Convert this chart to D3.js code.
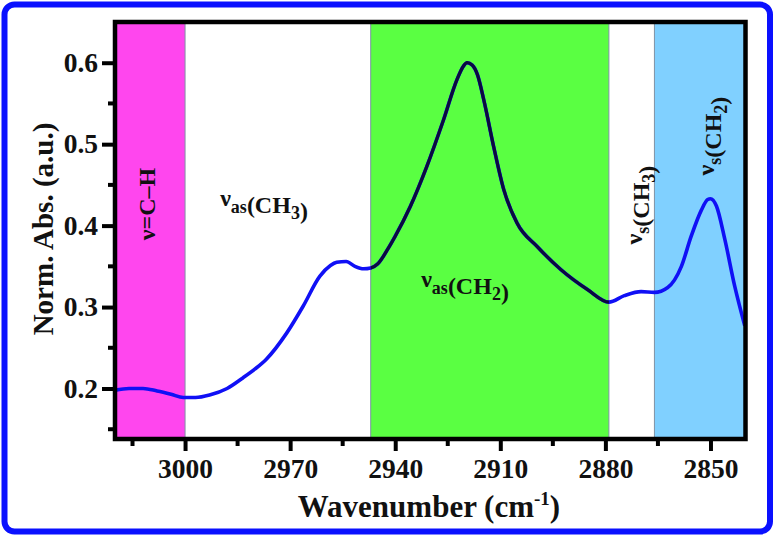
<!DOCTYPE html>
<html>
<head>
<meta charset="utf-8">
<script src="https://cdn.jsdelivr.net/npm/d3@7/dist/d3.min.js"></script>
<style>
  html, body { margin: 0; padding: 0; background: #fff; }
  svg { display: block; }
  text { font-family: "Liberation Serif", "Times New Roman", serif; font-weight: bold; fill: #111; }
</style>
</head>
<body>
<svg id="chart" width="779" height="538"></svg>
<script>
// ---- data ----
const wavenumber = [3020, 3016, 3012, 3008, 3004, 3000.5, 2997, 2993, 2988, 2983.5, 2980, 2976.8, 2971, 2966.3,
  2961.5, 2958.5, 2956.7, 2954, 2951.5, 2949, 2947, 2945, 2942, 2940, 2935.7, 2931, 2926.2, 2922.4, 2920.5,
  2919.5, 2918, 2916.5, 2914.7, 2911.9, 2909, 2905.2, 2899.4, 2892.7, 2885.1, 2879, 2874.6, 2869.8, 2866,
  2862.2, 2858.3, 2855.5, 2852.6, 2850.8, 2850, 2848.3, 2845.9, 2843.1, 2840.2];
const absorbance = [0.198, 0.200, 0.200, 0.197, 0.193, 0.189, 0.189, 0.192, 0.200, 0.213, 0.224, 0.236, 0.268, 0.301,
  0.338, 0.351, 0.355, 0.356, 0.350, 0.347, 0.348, 0.353, 0.372, 0.387, 0.4235, 0.4725, 0.530, 0.579, 0.596,
  0.600, 0.597, 0.585, 0.554, 0.497, 0.444, 0.403, 0.374, 0.346, 0.3215, 0.306, 0.314, 0.319, 0.318,
  0.324, 0.350, 0.387, 0.419, 0.432, 0.433, 0.424, 0.383, 0.326, 0.277];

const xTickValues = [3000, 2970, 2940, 2910, 2880, 2850];
const xMinorTicks = [3015, 2985, 2955, 2925, 2895, 2865];
const yTickValues = [0.2, 0.3, 0.4, 0.5, 0.6];
const yMinorTicks = [0.15, 0.25, 0.35, 0.45, 0.55];

const bandStart = [3020, 2947, 2866];
const bandEnd   = [3000, 2879, 2840];
const bandColor = ["#ff46ee", "#5aff42", "#80d0ff"];

// ---- layout ----
const svg = d3.select("#chart");
const L = 115, R = 745.5, T = 22, B = 439;
const x = d3.scaleLinear().domain([3020, 2840]).range([L, R]);
const y = d3.scaleLinear().domain([0.138, 0.65]).range([B, T]);
const FONT = '"Liberation Serif", "Times New Roman", serif';

// outer blue rounded border
svg.append("rect").attr("x", 4.5).attr("y", 4.5).attr("width", 765.5).attr("height", 527)
  .attr("rx", 10).attr("fill", "#fff").attr("stroke", "#0a10ff").attr("stroke-width", 6);

// bands
const bands = bandStart.map((s, i) => ({s, e: bandEnd[i], c: bandColor[i]}));
svg.append("g").selectAll("rect").data(bands).join("rect")
  .attr("x", d => x(d.s)).attr("y", T)
  .attr("width", d => x(d.e) - x(d.s)).attr("height", B - T)
  .attr("fill", d => d.c).attr("stroke", "#7f93a6").attr("stroke-width", 1);

// curve
const pts = wavenumber.map((w, i) => [w, absorbance[i]]);
const line = d3.line().x(d => x(d[0])).y(d => y(d[1])).curve(d3.curveMonotoneX);
svg.append("path").datum(pts).attr("d", line).attr("fill", "none")
  .attr("stroke", "#1010f5").attr("stroke-width", 3.6).attr("stroke-linejoin", "round");

svg.append("clipPath").attr("id", "greenClip").append("rect")
  .attr("x", x(bandStart[1])).attr("y", 0).attr("width", x(bandEnd[1]) - x(bandStart[1])).attr("height", 538);
svg.append("path").datum(pts).attr("d", line).attr("fill", "none")
  .attr("clip-path", "url(#greenClip)")
  .attr("stroke", "#0b0b3c").attr("stroke-width", 3.2).attr("stroke-linejoin", "round");

// axes
const xAxis = d3.axisBottom(x).tickValues(xTickValues).tickFormat(d3.format("d")).tickSize(12).tickPadding(7);
const gx = svg.append("g").attr("transform", `translate(0,${B})`).call(xAxis);
gx.select(".domain").remove();
gx.selectAll(".tick line").attr("stroke", "#000").attr("stroke-width", 4);
gx.selectAll(".tick text").attr("font-size", 27.5).attr("fill", "#111")
  .style("font-family", FONT).style("font-weight", "bold");
svg.append("g").selectAll("line").data(xMinorTicks).join("line")
  .attr("x1", d => x(d)).attr("x2", d => x(d)).attr("y1", B).attr("y2", B + 7)
  .attr("stroke", "#000").attr("stroke-width", 4);

const yAxis = d3.axisLeft(y).tickValues(yTickValues).tickFormat(d3.format(".1f")).tickSize(13).tickPadding(4);
const gy = svg.append("g").attr("transform", `translate(${L},0)`).call(yAxis);
gy.select(".domain").remove();
gy.selectAll(".tick line").attr("stroke", "#000").attr("stroke-width", 4);
gy.selectAll(".tick text").attr("font-size", 27.5).attr("fill", "#111")
  .style("font-family", FONT).style("font-weight", "bold");
svg.append("g").selectAll("line").data(yMinorTicks).join("line")
  .attr("x1", L - 7).attr("x2", L).attr("y1", d => y(d)).attr("y2", d => y(d))
  .attr("stroke", "#000").attr("stroke-width", 4);

// frame
svg.append("rect").attr("x", L).attr("y", T).attr("width", R - L).attr("height", B - T)
  .attr("fill", "none").attr("stroke", "#000").attr("stroke-width", 4.5);

// axis titles
svg.append("text").attr("x", 429).attr("y", 517).attr("text-anchor", "middle")
  .attr("font-size", 31)
  .call(t => {
    t.append("tspan").text("Wavenumber (cm");
    t.append("tspan").attr("font-size", 19).attr("dy", -12).text("-1");
    t.append("tspan").attr("dy", 12).text(")");
  });
svg.append("text").attr("transform", "translate(53,229) rotate(-90)").attr("text-anchor", "middle")
  .attr("font-size", 29).text("Norm. Abs. (a.u.)");

// band annotations
function label(g, parts, size) {
  const sub = Math.round(size * 0.75);
  parts.forEach(p => {
    if (p.sub) {
      g.append("tspan").attr("font-size", sub).attr("dy", size * 0.28).text(p.t);
      g.append("tspan").attr("dy", -size * 0.28).text("");
    } else {
      g.append("tspan").text(p.t);
    }
  });
}
const annSize = 24;
svg.append("text").attr("transform", "translate(155,204) rotate(-90)").attr("text-anchor", "middle")
  .attr("font-size", annSize).text("ν=C–H");

const t1 = svg.append("text").attr("x", 264).attr("y", 206).attr("text-anchor", "middle").attr("font-size", annSize);
label(t1, [{t: "ν"}, {t: "as", sub: true}, {t: "(CH"}, {t: "3", sub: true}, {t: ")"}], annSize);

const t2 = svg.append("text").attr("x", 465).attr("y", 287).attr("text-anchor", "middle").attr("font-size", annSize);
label(t2, [{t: "ν"}, {t: "as", sub: true}, {t: "(CH"}, {t: "2", sub: true}, {t: ")"}], annSize);

const t3 = svg.append("text").attr("transform", "translate(642,205) rotate(-90)").attr("text-anchor", "middle").attr("font-size", annSize);
label(t3, [{t: "ν"}, {t: "s", sub: true}, {t: "(CH"}, {t: "3", sub: true}, {t: ")"}], annSize);

const t4 = svg.append("text").attr("transform", "translate(714,136) rotate(-90)").attr("text-anchor", "middle").attr("font-size", annSize);
label(t4, [{t: "ν"}, {t: "s", sub: true}, {t: "(CH"}, {t: "2", sub: true}, {t: ")"}], annSize);
</script>
</body>
</html>
